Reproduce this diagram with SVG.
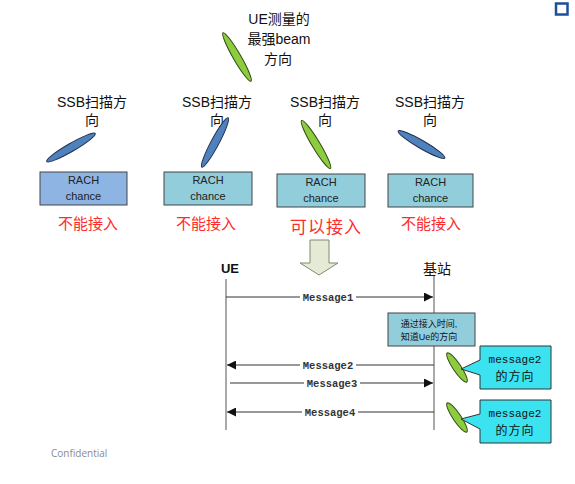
<svg xmlns="http://www.w3.org/2000/svg" width="575" height="484" viewBox="0 0 575 484">
<style>
.cjk{font-family:"Liberation Sans","Noto Sans CJK SC",sans-serif;fill:#111}
.lbl{font-size:14px;text-anchor:middle}
.rach{fill:#92CDDC;stroke:#444;stroke-width:1}
.rt{font-family:"Liberation Sans",sans-serif;font-size:11px;fill:#222;text-anchor:middle}
.red{font-family:"Noto Sans CJK SC",sans-serif;font-size:15px;fill:#FF2B2B;text-anchor:middle}
.blue{fill:#4F81BD;stroke:#1F3050;stroke-width:1}
.green{fill:#8DCB3F;stroke:#2F4A12;stroke-width:1}
.life{stroke:#555;stroke-width:1;fill:none}
.msg{stroke:#333;stroke-width:1;fill:none}
.mt{font-family:"Liberation Mono",monospace;font-size:10.5px;font-weight:bold;fill:#333;text-anchor:middle}
.call{fill:#3BE3F0;stroke:#333;stroke-width:1}
</style>
<defs>
<marker id="ah" viewBox="0 0 10 10" refX="10" refY="5" markerWidth="9" markerHeight="9" markerUnits="userSpaceOnUse" orient="auto">
<path d="M0,0 L10,5 L0,10 z" fill="#111"/>
</marker>
</defs>
<rect width="575" height="484" fill="#fff"/>
<g id="icon"><rect x="556" y="3.5" width="11.5" height="11" fill="#fff" stroke="#1F4E9C" stroke-width="2.5"/></g>

<g id="ue-beam">
<text class="cjk lbl" x="279" y="24">UE测量的</text>
<text class="cjk lbl" x="279" y="44">最强beam</text>
<text class="cjk lbl" x="278" y="64">方向</text>
<ellipse class="green" cx="237" cy="57" rx="28" ry="3.8" transform="rotate(60 237 57)"/>
</g>

<g id="ssb1">
<text class="cjk lbl" x="92" y="107">SSB扫描方</text>
<text class="cjk lbl" x="92" y="125">向</text>
<ellipse class="blue" cx="71" cy="147.5" rx="28" ry="4" transform="rotate(-30 71 147.5)"/>
<rect x="40" y="172" width="87" height="33" fill="#8EB4E3" stroke="#444"/>
<text class="rt" x="83.5" y="184">RACH</text>
<text class="rt" x="83.5" y="200">chance</text>
<text class="red" x="88" y="229">不能接入</text>
</g>

<g id="ssb2">
<text class="cjk lbl" x="217" y="107">SSB扫描方</text>
<text class="cjk lbl" x="217" y="125">向</text>
<ellipse class="blue" cx="215" cy="142.5" rx="28" ry="4" transform="rotate(-62 215 142.5)"/>
<rect class="rach" x="164" y="172" width="88" height="33"/>
<text class="rt" x="208" y="184">RACH</text>
<text class="rt" x="208" y="200">chance</text>
<text class="red" x="206" y="229">不能接入</text>
</g>

<g id="ssb3">
<text class="cjk lbl" x="325" y="107">SSB扫描方</text>
<text class="cjk lbl" x="325" y="125">向</text>
<ellipse class="green" cx="316" cy="144.5" rx="28" ry="4" transform="rotate(59 316 144.5)"/>
<rect class="rach" x="277" y="174" width="88" height="33"/>
<text class="rt" x="321" y="186">RACH</text>
<text class="rt" x="321" y="202">chance</text>
<text class="red" x="326" y="233" style="font-size:17px;letter-spacing:1px">可以接入</text>
</g>

<g id="ssb4">
<text class="cjk lbl" x="430" y="107">SSB扫描方</text>
<text class="cjk lbl" x="430" y="125">向</text>
<ellipse class="blue" cx="421.5" cy="144.5" rx="27" ry="4" transform="rotate(30 421.5 144.5)"/>
<rect class="rach" x="388" y="174" width="85" height="33"/>
<text class="rt" x="430.5" y="186">RACH</text>
<text class="rt" x="430.5" y="202">chance</text>
<text class="red" x="431" y="229">不能接入</text>
</g>

<g id="down-arrow">
<path d="M310,240 L329,240 L329,263 L338,263 L319,275 L300,263 L310,263 Z" fill="#E4EAD6" stroke="#7F8C70" stroke-width="1"/>
</g>

<g id="ue">
<text x="230" y="273" style="font-family:'Liberation Sans',sans-serif;font-size:13px;font-weight:bold;fill:#111;text-anchor:middle">UE</text>
<line class="life" x1="226" y1="279" x2="226" y2="430"/>
</g>

<g id="gnb">
<text class="cjk" x="437" y="274" style="font-size:14px;text-anchor:middle">基站</text>
<line class="life" x1="434" y1="276" x2="434" y2="430"/>
</g>

<g id="connectors">
<line class="msg" x1="226" y1="297" x2="433" y2="297" marker-end="url(#ah)"/>
<rect x="300" y="291" width="56" height="12" fill="#fff"/>
<text class="mt" x="328" y="301">Message1</text>

<line class="msg" x1="434" y1="365" x2="227" y2="365" marker-end="url(#ah)"/>
<rect x="300" y="359" width="56" height="12" fill="#fff"/>
<text class="mt" x="328" y="369">Message2</text>

<line class="msg" x1="230" y1="383" x2="433" y2="383" marker-end="url(#ah)"/>
<rect x="304" y="377" width="56" height="12" fill="#fff"/>
<text class="mt" x="332" y="387">Message3</text>

<line class="msg" x1="434" y1="412" x2="227" y2="412" marker-end="url(#ah)"/>
<rect x="302" y="406" width="56" height="12" fill="#fff"/>
<text class="mt" x="330" y="416">Message4</text>
</g>

<g id="note">
<rect x="388" y="313" width="87" height="33" fill="#92CDDC" stroke="#444"/>
<text class="cjk" x="429" y="327" style="font-size:9px;text-anchor:middle">通过接入时间,</text>
<text class="cjk" x="429" y="340" style="font-size:9px;text-anchor:middle">知道Ue的方向</text>
</g>

<g id="beam-m2">
<ellipse class="green" cx="457" cy="367.5" rx="17.5" ry="4" transform="rotate(56 457 367.5)"/>
</g>
<g id="beam-m4">
<ellipse class="green" cx="457" cy="417.5" rx="17.5" ry="4" transform="rotate(56 457 417.5)"/>
</g>

<g id="callout1">
<path class="call" d="M480,346 L551,346 L551,389 L480,389 L480,375 L461,369 L480,360 Z"/>
<text x="515" y="363" style="font-family:'Liberation Mono',monospace;font-size:11px;fill:#111;text-anchor:middle">message2</text>
<text class="cjk" x="515" y="381" style="font-size:12px;text-anchor:middle;letter-spacing:1px">的方向</text>
</g>
<g id="callout2">
<path class="call" d="M480,400 L551,400 L551,443 L480,443 L480,429 L461,419 L480,414 Z"/>
<text x="515" y="417" style="font-family:'Liberation Mono',monospace;font-size:11px;fill:#111;text-anchor:middle">message2</text>
<text class="cjk" x="515" y="435" style="font-size:12px;text-anchor:middle;letter-spacing:1px">的方向</text>
</g>

<text x="51" y="457" style="font-family:'Open Sans','Liberation Sans',sans-serif;font-size:10px;fill:#8A8A8A">Confidential</text>
</svg>
